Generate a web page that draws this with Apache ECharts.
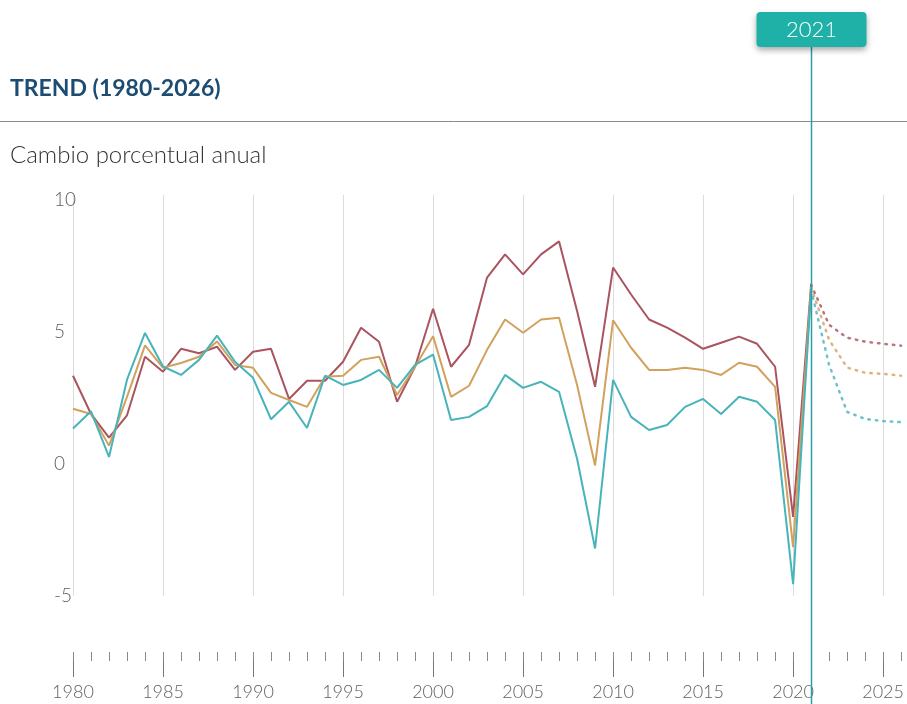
<!DOCTYPE html>
<html>
<head>
<meta charset="utf-8">
<script src="https://cdn.jsdelivr.net/npm/echarts@6/dist/echarts.min.js"></script>
<style>
  html, body { margin: 0; padding: 0; background: #fff; }
  #chart { width: 907px; height: 704px; }
</style>
</head>
<body>
<div id="chart"></div>
<script>
// annual % change
var years = [];
for (var y = 1980; y <= 2021; y++) years.push(y);
var forecastYears = [2021, 2022, 2023, 2024, 2025, 2026];

var emerging = [3.35, 1.9, 1.0, 1.85, 4.07, 3.5, 4.37, 4.2, 4.45, 3.57,
  4.26, 4.37, 2.47, 3.16, 3.16, 3.88, 5.17, 4.64, 2.36, 3.69,
  5.89, 3.69, 4.52, 7.07, 7.95, 7.19, 7.95, 8.44, 5.8, 2.93,
  7.45, 6.43, 5.48, 5.17, 4.79, 4.37, 4.6, 4.83, 4.56, 3.69,
  -2.0, 6.8];
var world = [2.1, 1.9, 0.7, 2.55, 4.5, 3.65, 3.83, 4.07, 4.65, 3.76,
  3.65, 2.7, 2.43, 2.17, 3.31, 3.35, 3.95, 4.07, 2.62, 3.69,
  4.85, 2.55, 2.97, 4.33, 5.48, 4.98, 5.48, 5.55, 3.0, -0.05,
  5.45, 4.41, 3.57, 3.57, 3.65, 3.57, 3.38, 3.84, 3.69, 2.93,
  -3.15, 6.7];
var advanced = [1.35, 2.0, 0.27, 3.2, 4.97, 3.7, 3.38, 3.95, 4.87, 3.88,
  3.27, 1.7, 2.36, 1.37, 3.35, 3.0, 3.19, 3.57, 2.89, 3.76,
  4.15, 1.67, 1.79, 2.2, 3.38, 2.89, 3.12, 2.74, 0.2, -3.2,
  3.19, 1.79, 1.29, 1.48, 2.17, 2.47, 1.9, 2.55, 2.36, 1.67,
  -4.55, 6.6];

var emergingF = [6.8, 5.28, 4.79, 4.64, 4.56, 4.49];
var worldF = [6.7, 4.71, 3.66, 3.46, 3.42, 3.35];
var advancedF = [6.6, 3.76, 1.98, 1.71, 1.63, 1.59];

var xLabels = [1980, 1985, 1990, 1995, 2000, 2005, 2010, 2015, 2020, 2025];
var yLabels = [-5, 0, 5, 10];
var markYear = 2021;

var colRed = '#a9545f', colOrange = '#d2a15d', colTeal = '#47b3bb';

function pairs(xs, vs) {
  return xs.map(function (x, i) { return [x, vs[i]]; });
}
var everyYear = [];
for (var t = 1980; t <= 2026; t++) everyYear.push(t);

function solid(name, data, color) {
  return {
    name: name, type: 'line', data: pairs(years, data),
    symbol: 'none', lineStyle: { color: color, width: 2 }, z: 3
  };
}
function dotted(name, data, color) {
  return {
    name: name, type: 'line', data: pairs(forecastYears, data),
    symbol: 'none', lineStyle: { color: color, width: 2.5, type: [1.5, 6], cap: 'round', opacity: 0.8 }, z: 3
  };
}

var chart = echarts.init(document.getElementById('chart'));
chart.setOption({
  animation: false,
  grid: { left: 73, right: 4, top: 195, bottom: 108 },
  xAxis: [{
    type: 'value', min: 1980, max: 2026, offset: 56,
    axisLine: { show: false, onZero: false },
    axisTick: { show: true, length: 25, customValues: xLabels, lineStyle: { color: '#777', width: 1 } },
    axisLabel: {
      customValues: xLabels, margin: 31, color: '#5f5f5f', fontFamily: 'Lato', fontWeight: 300, fontSize: 18,
      formatter: function (v) { return String(v); }
    },
    splitLine: { show: true, lineStyle: { color: '#dcdcdc', width: 1 } }
  }, {
    type: 'value', min: 1980, max: 2026, offset: 56, position: 'bottom',
    axisLine: { show: false, onZero: false },
    axisTick: { show: true, length: 9, customValues: everyYear, lineStyle: { color: '#888', width: 1 } },
    axisLabel: { show: false },
    splitLine: { show: false }
  }],
  yAxis: {
    type: 'value', min: -5, max: 10.2,
    axisLine: { show: false }, axisTick: { show: false }, splitLine: { show: false },
    axisLabel: {
      customValues: yLabels, align: 'left', margin: 19,
      color: '#5f5f5f', fontFamily: 'Lato', fontWeight: 300, fontSize: 19
    }
  },
  series: [
    solid('Mercados emergentes', emerging, colRed),
    solid('Mundo', world, colOrange),
    solid('Economías avanzadas', advanced, colTeal),
    dotted('Mercados emergentes (proy.)', emergingF, colRed),
    dotted('Mundo (proy.)', worldF, colOrange),
    dotted('Economías avanzadas (proy.)', advancedF, colTeal)
  ]
});

var mx = Math.round(chart.convertToPixel({ xAxisIndex: 0 }, markYear)) + 0.5;
chart.setOption({
  graphic: [
    { type: 'line', shape: { x1: 0, y1: 121.5, x2: 907, y2: 121.5 }, style: { stroke: '#8a8a8a', lineWidth: 1 } },
    { type: 'text', left: 10, top: 77, style: { text: 'TREND (1980-2026)', fill: '#1d4c73', font: 'bold 23px Lato' } },
    { type: 'text', left: 10, top: 143, style: { text: 'Cambio porcentual anual', fill: '#333', font: '300 24px Lato' } },
    { type: 'line', z: 10, shape: { x1: mx, y1: 46, x2: mx, y2: 704 }, style: { stroke: '#2b9fa8', lineWidth: 1.5 } },
    {
      type: 'rect', z: 11, shape: { x: mx - 55, y: 12, width: 110, height: 35, r: 4 },
      style: { fill: '#1fb1a8', shadowBlur: 6, shadowOffsetY: 3, shadowColor: 'rgba(0,0,0,0.35)' }
    },
    {
      type: 'text', z: 12, x: mx, y: 30,
      style: { text: String(markYear), fill: '#fff', font: '300 22px Lato', align: 'center', verticalAlign: 'middle' }
    }
  ]
});
</script>
</body>
</html>
